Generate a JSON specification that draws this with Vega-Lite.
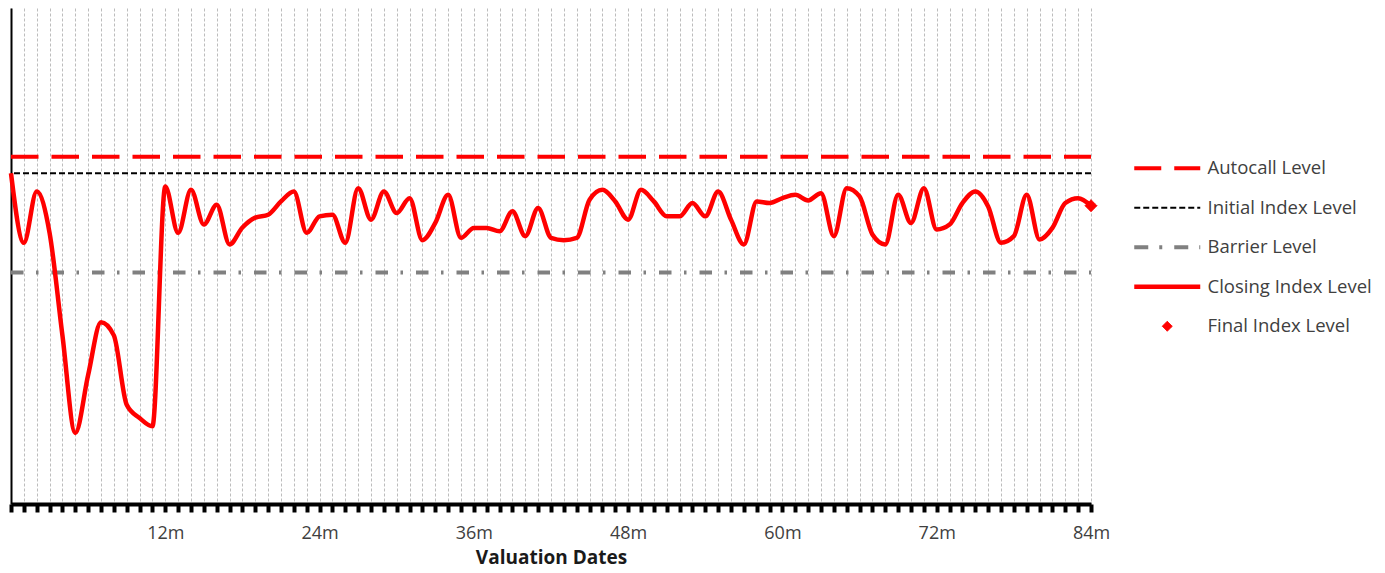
{
  "$schema": "https://vega.github.io/schema/vega-lite/v6.json",
  "width": 1080,
  "height": 496,
  "padding": {"left": 2, "top": 8, "right": 0, "bottom": 6},
  "background": "white",
  "config": {
    "view": {"stroke": null},
    "font": "Open Sans",
    "axisY": {"labels": false, "ticks": false, "grid": false, "domainColor": "black", "domainWidth": 2},
    "axisX": {
      "grid": true, "gridDash": [3, 2], "gridColor": "#bdbdbd", "gridWidth": 1,
      "domainColor": "black", "domainWidth": 4,
      "tickColor": "black", "tickWidth": 4, "tickSize": 8,
      "labelFont": "Open Sans", "labelFontSize": 18, "labelColor": "#404040", "labelPadding": 12,
      "labelFlush": false, "labelOverlap": false,
      "titleFont": "Open Sans", "titleFontSize": 19, "titleFontWeight": "bold", "titleColor": "#1a1a1a", "titlePadding": 6
    },
    "legend": {
      "orient": "none", "legendX": 1147, "legendY": 151, "padding": 0,
      "labelFont": "Open Sans", "labelFontSize": 18.5, "labelColor": "#404040", "labelLimit": 400,
      "labelOffset": 31, "rowPadding": 20.5, "symbolSize": 100, "symbolOffset": 0
    }
  },
  "layer": [
    {
      "data": {"values": [{"series": "Autocall Level", "level": 105}]},
      "mark": {"type": "rule", "color": "#ff0000", "strokeWidth": 4, "strokeDash": [27.5, 13], "strokeDashOffset": 0.5},
      "encoding": {"y": {"field": "level", "type": "quantitative", "scale": {"domain": [0, 150], "nice": false, "zero": true}, "title": null}}
    },
    {
      "data": {"values": [{"series": "Initial Index Level", "level": 100}]},
      "mark": {"type": "rule", "color": "#000000", "strokeWidth": 2, "strokeDash": [6, 3]},
      "encoding": {"y": {"field": "level", "type": "quantitative", "title": null}}
    },
    {
      "data": {"values": [{"series": "Barrier Level", "level": 70}]},
      "mark": {"type": "rule", "color": "#808080", "strokeWidth": 4, "strokeDash": [12.5, 13, 2.5, 12.5], "strokeDashOffset": 26},
      "encoding": {"y": {"field": "level", "type": "quantitative", "title": null}}
    },
    {
      "data": {"values": [
        {"month": 0, "value": 100}, {"month": 1, "value": 79}, {"month": 2, "value": 94.5}, {"month": 3, "value": 82},
        {"month": 4, "value": 51}, {"month": 5, "value": 21.5}, {"month": 6, "value": 39}, {"month": 7, "value": 55},
        {"month": 8, "value": 51}, {"month": 9, "value": 30}, {"month": 10, "value": 26}, {"month": 11, "value": 23.5},
        {"month": 12, "value": 96}, {"month": 13, "value": 82}, {"month": 14, "value": 95}, {"month": 15, "value": 84.5},
        {"month": 16, "value": 90.5}, {"month": 17, "value": 78.5}, {"month": 18, "value": 83.6}, {"month": 19, "value": 86.6},
        {"month": 20, "value": 87.5}, {"month": 21, "value": 91.5}, {"month": 22, "value": 94.5}, {"month": 23, "value": 82},
        {"month": 24, "value": 87}, {"month": 25, "value": 87.5}, {"month": 26, "value": 79}, {"month": 27, "value": 95.5},
        {"month": 28, "value": 86}, {"month": 29, "value": 94.5}, {"month": 30, "value": 88}, {"month": 31, "value": 92.5},
        {"month": 32, "value": 79.8}, {"month": 33, "value": 85}, {"month": 34, "value": 93.5}, {"month": 35, "value": 80.5},
        {"month": 36, "value": 83.5}, {"month": 37, "value": 83.5}, {"month": 38, "value": 82.5}, {"month": 39, "value": 88.5},
        {"month": 40, "value": 81}, {"month": 41, "value": 89.5}, {"month": 42, "value": 80.5}, {"month": 43, "value": 79.8},
        {"month": 44, "value": 80.5}, {"month": 45, "value": 92}, {"month": 46, "value": 95}, {"month": 47, "value": 91.5},
        {"month": 48, "value": 86}, {"month": 49, "value": 95}, {"month": 50, "value": 91.5}, {"month": 51, "value": 87},
        {"month": 52, "value": 87}, {"month": 53, "value": 91}, {"month": 54, "value": 87}, {"month": 55, "value": 94.5},
        {"month": 56, "value": 86}, {"month": 57, "value": 78.5}, {"month": 58, "value": 91.5}, {"month": 59, "value": 91},
        {"month": 60, "value": 92.5}, {"month": 61, "value": 93.5}, {"month": 62, "value": 91.8}, {"month": 63, "value": 94},
        {"month": 64, "value": 81}, {"month": 65, "value": 95.5}, {"month": 66, "value": 93}, {"month": 67, "value": 81.5},
        {"month": 68, "value": 78.5}, {"month": 69, "value": 93.5}, {"month": 70, "value": 85}, {"month": 71, "value": 95.5},
        {"month": 72, "value": 83}, {"month": 73, "value": 84.5}, {"month": 74, "value": 91}, {"month": 75, "value": 94.5},
        {"month": 76, "value": 90}, {"month": 77, "value": 79}, {"month": 78, "value": 81}, {"month": 79, "value": 93.5},
        {"month": 80, "value": 80}, {"month": 81, "value": 83.5}, {"month": 82, "value": 91}, {"month": 83, "value": 92.5},
        {"month": 84, "value": 90.2}
      ]},
      "mark": {"type": "line", "color": "#ff0000", "strokeWidth": 4.5, "interpolate": "monotone"},
      "encoding": {
        "x": {
          "field": "month", "type": "quantitative",
          "scale": {"domain": [0, 84], "nice": false, "zero": false},
          "title": "Valuation Dates",
          "axis": {
            "values": [0,1,2,3,4,5,6,7,8,9,10,11,12,13,14,15,16,17,18,19,20,21,22,23,24,25,26,27,28,29,30,31,32,33,34,35,36,37,38,39,40,41,42,43,44,45,46,47,48,49,50,51,52,53,54,55,56,57,58,59,60,61,62,63,64,65,66,67,68,69,70,71,72,73,74,75,76,77,78,79,80,81,82,83,84],
            "labelExpr": "datum.value > 0 && datum.value % 12 === 0 ? datum.value + 'm' : ''"
          }
        },
        "y": {"field": "value", "type": "quantitative", "title": null}
      }
    },
    {
      "data": {"values": [{"series": "Final Index Level", "month": 84, "value": 90.2}]},
      "mark": {"type": "point", "filled": true, "size": 144, "opacity": 1},
      "encoding": {
        "x": {
          "field": "month", "type": "quantitative", "title": "Valuation Dates",
          "axis": {
            "values": [0,1,2,3,4,5,6,7,8,9,10,11,12,13,14,15,16,17,18,19,20,21,22,23,24,25,26,27,28,29,30,31,32,33,34,35,36,37,38,39,40,41,42,43,44,45,46,47,48,49,50,51,52,53,54,55,56,57,58,59,60,61,62,63,64,65,66,67,68,69,70,71,72,73,74,75,76,77,78,79,80,81,82,83,84],
            "labelExpr": "datum.value > 0 && datum.value % 12 === 0 ? datum.value + 'm' : ''"
          }
        },
        "y": {"field": "value", "type": "quantitative", "title": null},
        "fill": {"field": "series", "type": "nominal", "title": null,
          "scale": {"domain": ["Autocall Level", "Initial Index Level", "Barrier Level", "Closing Index Level", "Final Index Level"],
                    "range": ["#ff0000", "#000000", "#808080", "#ff0000", "#ff0000"]}},
        "stroke": {"field": "series", "type": "nominal", "title": null,
          "scale": {"domain": ["Autocall Level", "Initial Index Level", "Barrier Level", "Closing Index Level", "Final Index Level"],
                    "range": ["#ff0000", "#000000", "#808080", "#ff0000", "#ff0000"]}},
        "shape": {"field": "series", "type": "nominal", "title": null,
          "scale": {"domain": ["Autocall Level", "Initial Index Level", "Barrier Level", "Closing Index Level", "Final Index Level"],
                    "range": ["M-6.6,0L6.6,0", "M-6.6,0L6.6,0", "M-6.6,0L6.6,0", "M-6.6,0L6.6,0", "M-1,0L0,-1L1,0L0,1Z"]}},
        "strokeDash": {"field": "series", "type": "nominal", "title": null,
          "scale": {"domain": ["Autocall Level", "Initial Index Level", "Barrier Level", "Closing Index Level", "Final Index Level"],
                    "range": [[27, 13], [6, 3], [14, 11, 3, 12], [1, 0], [1, 0]]}},
        "strokeWidth": {"field": "series", "type": "nominal", "title": null,
          "scale": {"type": "ordinal", "domain": ["Autocall Level", "Initial Index Level", "Barrier Level", "Closing Index Level", "Final Index Level"],
                    "range": [4, 2, 4, 4.5, 1]}}
      }
    }
  ]
}
